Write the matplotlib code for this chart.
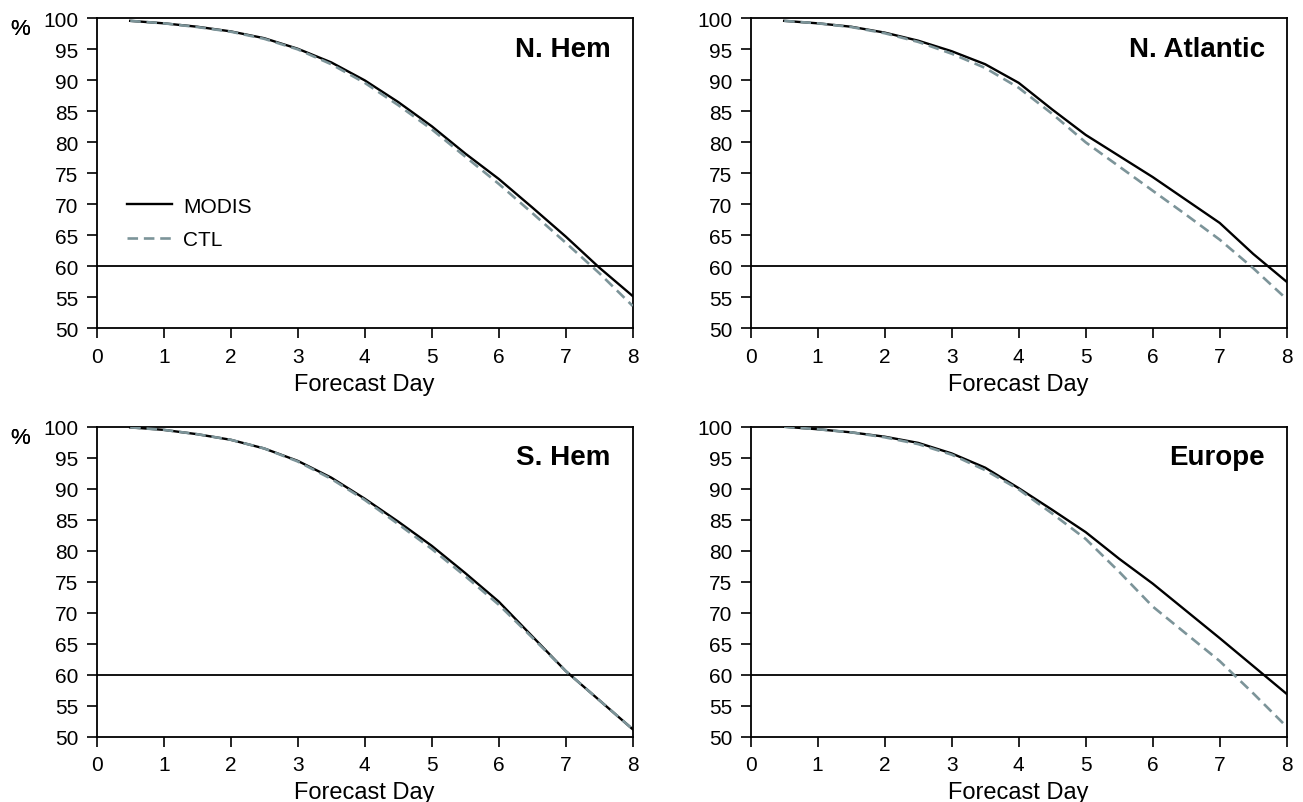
import matplotlib
matplotlib.use('Agg')
import matplotlib.pyplot as plt

plt.rcParams['font.family'] = ['Liberation Sans', 'DejaVu Sans']

days = [0.5, 1, 1.5, 2, 2.5, 3, 3.5, 4, 4.5, 5, 5.5, 6, 6.5, 7, 7.5, 8]

# anomaly correlation (%)
nhem_modis = [99.6, 99.2, 98.65, 97.9, 96.8, 95.1, 92.9, 90.0, 86.5, 82.6, 78.2, 74.1, 69.5, 64.8, 59.8, 55.2]
nhem_ctl = [99.6, 99.2, 98.6, 97.85, 96.7, 95.0, 92.6, 89.6, 86.0, 82.1, 77.7, 73.3, 68.6, 63.8, 58.9, 53.6]

natl_modis = [99.6, 99.2, 98.65, 97.7, 96.4, 94.7, 92.6, 89.6, 85.3, 81.2, 77.8, 74.4, 70.7, 67.0, 62.0, 57.5]
natl_ctl = [99.6, 99.2, 98.6, 97.6, 96.2, 94.3, 92.0, 88.8, 84.6, 80.0, 76.1, 72.2, 68.3, 64.3, 59.7, 54.7]

shem_modis = [99.9, 99.5, 98.8, 97.9, 96.5, 94.5, 91.8, 88.4, 84.7, 80.8, 76.4, 71.8, 66.2, 60.6, 55.9, 51.2]
shem_ctl = [99.9, 99.5, 98.8, 97.9, 96.5, 94.4, 91.6, 88.2, 84.3, 80.3, 75.9, 71.3, 66.0, 60.6, 55.9, 51.2]

eur_modis = [100.0, 99.6, 99.1, 98.4, 97.4, 95.7, 93.4, 90.1, 86.6, 83.0, 78.7, 74.7, 70.3, 65.9, 61.4, 56.9]
eur_ctl = [100.0, 99.6, 99.1, 98.3, 97.2, 95.5, 93.0, 89.9, 86.0, 81.9, 76.6, 71.0, 66.6, 62.2, 57.0, 51.6]

regions = ['N. Hem', 'N. Atlantic', 'S. Hem', 'Europe']
modis = [nhem_modis, natl_modis, shem_modis, eur_modis]
ctl = [nhem_ctl, natl_ctl, shem_ctl, eur_ctl]

ctl_color = '#7c9499'

fig = plt.figure(figsize=(13.03, 8.03), dpi=100)
lefts = [0.0742, 0.5761, 0.0742, 0.5761]
bottoms = [0.5899, 0.5899, 0.0813, 0.0813]
w, h = 0.4114, 0.386

for i in range(4):
    ax = fig.add_axes([lefts[i], bottoms[i], w, h])
    ax.axhline(60, color='black', lw=1.3, zorder=1)
    ax.plot(days, modis[i], color='black', lw=1.7, label='MODIS', zorder=3)
    ax.plot(days, ctl[i], color=ctl_color, lw=1.9, dashes=(4, 2.2), label='CTL', zorder=4)
    ax.set_xlim(0, 8)
    ax.set_ylim(50, 100)
    ax.set_xticks(range(0, 9))
    ax.set_yticks(range(50, 101, 5))
    ax.tick_params(direction='out', length=7.4, width=1.2, labelsize=15, pad=6)
    for s in ax.spines.values():
        s.set_linewidth(1.3)
    ax.set_xlabel('Forecast Day', fontsize=17, labelpad=5)
    ax.text(0.959, 0.943, regions[i], transform=ax.transAxes, ha='right', va='top',
            fontsize=20, fontweight='bold')
    fig.text(0.008, bottoms[i] + h - 0.013, '%', fontsize=16, ha='left', va='center')
    if i == 0:
        ax.legend(loc='upper left', bbox_to_anchor=(0.022, 0.485), frameon=False,
                  fontsize=15, handlelength=2.13, handletextpad=0.57, labelspacing=0.7)

fig.savefig('out.png', dpi=100)
